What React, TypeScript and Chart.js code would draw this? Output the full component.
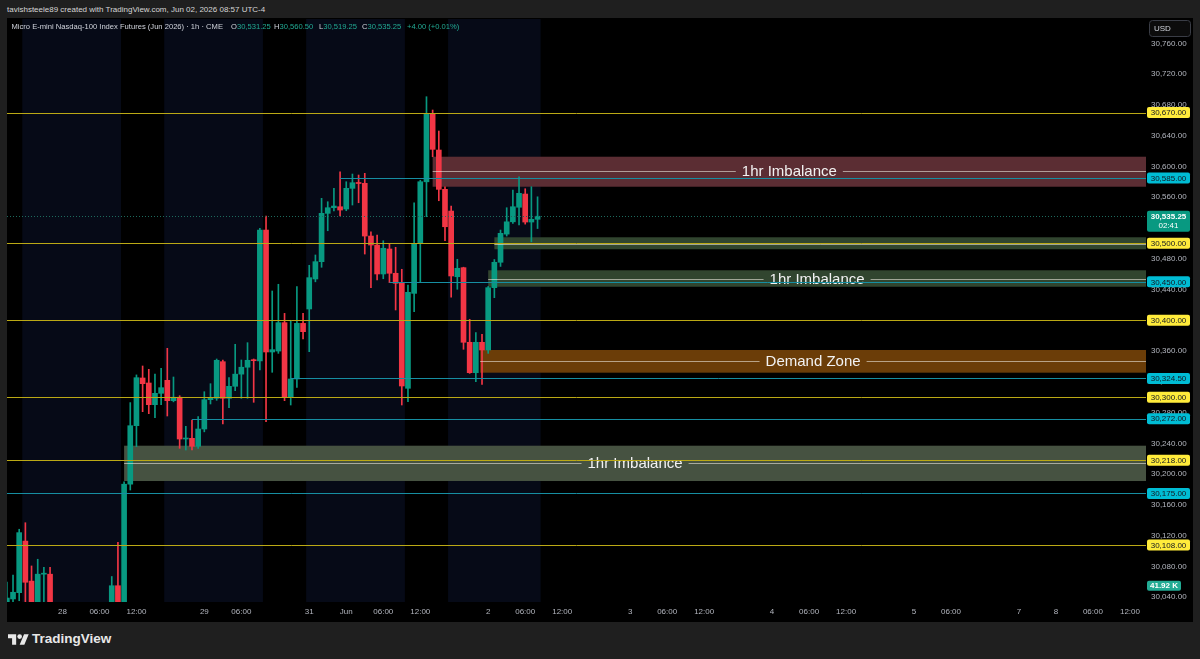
import React, { useEffect, useRef } from "react";
import { Chart, registerables } from "chart.js";

Chart.register(...registerables);

// ---------- DATA ----------
// Hourly bars, index 0 = May 27 14:00 (CME Globex session hours, 17:00 break skipped)
const OPEN = [
  30030, 30037.8, 30046, 30113, 30061, 30025, 30070, 30070, 30020, 29995,
  30008, 29998, 29975, 29990, 30010, 30002, 30018, 30012, 30055, 30025,
  30187, 30263, 30325, 30318.5, 30290.3, 30305.1, 30322, 30295.5, 30300, 30245.7,
  30246.6, 30236.2, 30258.7, 30296.8, 30298.6, 30346.2, 30298.6, 30314.2, 30330, 30339,
  30348.5, 30347.1, 30517.3, 30358.8, 30360, 30396.9, 30300.7, 30323.7, 30396, 30414.7,
  30453.7, 30476.2, 30539, 30546.3, 30547.6, 30544.6, 30571.5, 30579, 30578, 30509.5,
  30497.8, 30460.2, 30492.7, 30461.1, 30448.1, 30311.6, 30435, 30500, 30580, 30669,
  30621.3, 30570.2, 30542, 30456.6, 30468.4, 30371.4, 30331.9, 30371.4, 30361.4, 30442.4,
  30475.4, 30512, 30528, 30546.9, 30564.1, 30527.7, 30531.25,
];
const HIGH = [
  30059.6, 30069, 30128.4, 30136.9, 30080.7, 30089.4, 30079, 30079, 30030, 30018,
  30026, 30012, 29998, 30015, 30028, 30024, 30030, 30067, 30111.5, 30190,
  30293, 30329, 30340.6, 30336.3, 30330, 30337.6, 30363.6, 30326.3, 30302, 30262.2,
  30270.4, 30274.7, 30307.2, 30317.6, 30349.7, 30348.4, 30325.4, 30368.8, 30348.4, 30370.9,
  30349.7, 30519.6, 30535.5, 30438.1, 30446.8, 30409, 30400, 30443.7, 30409, 30471.5,
  30484.9, 30558.5, 30554.1, 30571.5, 30593.1, 30580.1, 30590.1, 30588.8, 30591, 30515.1,
  30510.8, 30503.4, 30500, 30494.9, 30466.3, 30445.9, 30552.8, 30582, 30690.6, 30673.3,
  30646, 30573.6, 30548.5, 30479.3, 30469, 30401.3, 30383.9, 30381.8, 30444, 30479,
  30517.3, 30546.3, 30569.3, 30586.6, 30571, 30573.6, 30560.5,
];
const LOW = [
  30022, 30034, 30035.5, 30034, 30010, 30015, 30028, 30005, 29985, 29978,
  29990, 29965, 29958, 29982, 29996, 29988, 30000, 30008, 30015, 30020,
  30179.4, 30235.7, 30281.2, 30278.6, 30273.4, 30290.3, 30275.6, 30294, 30233.6, 30231.4,
  30231.4, 30233.6, 30255, 30291.2, 30296, 30265.2, 30286.4, 30308.5, 30298.6, 30298.6,
  30293.4, 30335.4, 30268.2, 30332.4, 30357, 30295.5, 30289.9, 30312.9, 30375.7, 30359.2,
  30450, 30468.9, 30516.4, 30542, 30535.5, 30542.4, 30549.8, 30552.8, 30486.1, 30442.4,
  30452.4, 30454, 30448.9, 30413.4, 30289.9, 30294.2, 30411.2, 30449.4, 30534.6, 30612.6,
  30555.4, 30503.4, 30429.9, 30440.3, 30362.3, 30331, 30320.2, 30316.8, 30357, 30429.4,
  30470, 30509.5, 30526, 30523.8, 30525, 30502, 30519.25,
];
const CLOSE = [
  30039, 30046.5, 30124, 30059.5, 30025, 30070, 30071, 30020, 29995, 30008,
  29998, 29975, 29990, 30010, 30002, 30018, 30012, 30055, 30025, 30187,
  30263, 30325.4, 30317.6, 30290.3, 30305.1, 30312.4, 30295.5, 30300, 30245.7, 30246.6,
  30236.2, 30258.7, 30296.8, 30298.6, 30348, 30298.6, 30314.2, 30330, 30339, 30348,
  30347.5, 30517.3, 30358.8, 30361.8, 30396.9, 30300.7, 30323.7, 30396, 30385.2, 30455.4,
  30476.2, 30539, 30546.3, 30548.5, 30543.3, 30571.5, 30578.8, 30577.8, 30509.5, 30497.8,
  30460.2, 30493.6, 30461.1, 30448.1, 30314.6, 30436.4, 30500, 30580.1, 30669, 30622.2,
  30570.2, 30521.6, 30457.6, 30467.6, 30371.4, 30331.9, 30371.4, 30361.4, 30442.4, 30475.4,
  30513, 30528, 30547.6, 30565, 30527.7, 30531.25, 30535.25,
];

const TIME_TICK_INDEX = [9, 15, 21, 32, 38, 49, 55, 61, 67, 78, 84, 90, 101, 107, 113, 124, 130, 136, 147, 153, 164, 170, 176, 182];
const TIME_TICK_LABELS = ["28", "06:00", "12:00", "29", "06:00", "31", "Jun", "06:00", "12:00", "2", "06:00", "12:00", "3", "06:00", "12:00", "4", "06:00", "12:00", "5", "06:00", "7", "8", "06:00", "12:00"];
const PRICE_TICKS = [30040, 30080, 30120, 30160, 30200, 30240, 30280, 30320, 30360, 30400, 30440, 30480, 30520, 30560, 30600, 30640, 30680, 30720, 30760];

const YELLOW_LEVELS = [30670, 30500, 30400, 30300, 30218, 30108];
const CYAN_LEVELS = [30585, 30450, 30324.5, 30272, 30175];
const CYAN_FROM_BAR = [54, 62, 46, 30, 0];

const ZONE_TOP = [30612.6, 30507.9, 30465, 30361.4, 30237];
const ZONE_BOTTOM = [30573.6, 30492.3, 30443.6, 30331.9, 30191.1];
const ZONE_MID = [30594, 30499.3, 30454, 30347.5, 30214.9];
const ZONE_FROM_BAR = [69, 79, 78, 76.7, 19];
const ZONE_TEXT = ["1hr Imbalance", "", "1hr Imbalance", "Demand Zone", "1hr Imbalance"];

const SESSION_FROM = [2.5, 25.5, 48.5, 71.5];
const SESSION_TO = [18.5, 41.5, 64.5, 86.5];

const LAST_PRICE = 30535.25;
const COUNTDOWN = "02:41";
const VOLUME_LABEL = "41.92 K";

// ---------- STYLE ----------
const X_MIN = 0.023;
const X_MAX = 184.6;
const Y_MIN = 30033.85;
const Y_MAX = 30791.6;
const FONT = '"Liberation Sans", Arial, sans-serif';
const UP = "#089981";
const DOWN = "#f23645";
const AXIS_TEXT = "#b2b5be";
const ZONE_FILL = ["#5b2d33", "#31452f", "#31452f", "#6b3d08", "#465241"];

const fmt = (v: number) =>
  v.toLocaleString("en-US", { minimumFractionDigits: 2, maximumFractionDigits: 2 });

const overlay = {
  id: "overlay",
  beforeDatasetsDraw(chart: any) {
    const { ctx, chartArea: a, scales } = chart;
    const x = scales.x, y = scales.y;
    ctx.save();
    ctx.beginPath();
    ctx.rect(a.left, a.top, a.right - a.left, a.bottom - a.top);
    ctx.clip();
    ctx.fillStyle = "#060a17";
    SESSION_FROM.forEach((s, i) => {
      const x0 = x.getPixelForValue(s);
      const x1 = x.getPixelForValue(SESSION_TO[i]);
      ctx.fillRect(x0, a.top, x1 - x0, a.bottom - a.top);
    });
    ZONE_TOP.forEach((t, i) => {
      const x0 = x.getPixelForValue(ZONE_FROM_BAR[i]);
      const y0 = y.getPixelForValue(t);
      const y1 = y.getPixelForValue(ZONE_BOTTOM[i]);
      ctx.fillStyle = ZONE_FILL[i];
      ctx.fillRect(x0, y0, a.right - x0, y1 - y0);
    });
    ctx.restore();
  },
  afterDatasetsDraw(chart: any) {
    const { ctx, chartArea: a, scales } = chart;
    const x = scales.x, y = scales.y;
    ctx.save();
    ctx.beginPath();
    ctx.rect(a.left, a.top, a.right - a.left, a.bottom - a.top);
    ctx.clip();
    ctx.lineWidth = 1;
    const py = Math.round(y.getPixelForValue(LAST_PRICE)) + 0.5;
    ctx.strokeStyle = "#1d6a5d";
    ctx.setLineDash([1, 2]);
    ctx.beginPath();
    ctx.moveTo(a.left, py);
    ctx.lineTo(a.right, py);
    ctx.stroke();
    ctx.setLineDash([]);
    ctx.font = `15px ${FONT}`;
    ctx.textBaseline = "middle";
    ctx.textAlign = "center";
    ZONE_MID.forEach((m, i) => {
      const x0 = x.getPixelForValue(ZONE_FROM_BAR[i]);
      const ym = Math.round(y.getPixelForValue(m)) + 0.5;
      ctx.strokeStyle = "rgba(235,232,222,0.6)";
      const label = ZONE_TEXT[i];
      if (label) {
        const cx = (x0 + a.right) / 2;
        const w = ctx.measureText(label).width;
        ctx.beginPath();
        ctx.moveTo(x0, ym);
        ctx.lineTo(cx - w / 2 - 6, ym);
        ctx.moveTo(cx + w / 2 + 6, ym);
        ctx.lineTo(a.right, ym);
        ctx.stroke();
        ctx.fillStyle = "#f2f2f2";
        ctx.fillText(label, cx, ym);
      } else {
        ctx.beginPath();
        ctx.moveTo(x0, ym);
        ctx.lineTo(a.right, ym);
        ctx.stroke();
      }
    });
    ctx.strokeStyle = "#bba915";
    YELLOW_LEVELS.forEach((p) => {
      const yy = Math.round(y.getPixelForValue(p)) + 0.5;
      ctx.beginPath();
      ctx.moveTo(a.left, yy);
      ctx.lineTo(a.right, yy);
      ctx.stroke();
    });
    ctx.strokeStyle = "#168ea2";
    CYAN_LEVELS.forEach((p, i) => {
      const yy = Math.round(y.getPixelForValue(p)) + 0.5;
      const x0 = CYAN_FROM_BAR[i] === 0 ? a.left : x.getPixelForValue(CYAN_FROM_BAR[i]);
      ctx.beginPath();
      ctx.moveTo(x0, yy);
      ctx.lineTo(a.right, yy);
      ctx.stroke();
    });
    ctx.restore();
  },
  afterDraw(chart: any) {
    const { ctx, chartArea: a, scales } = chart;
    const y = scales.y;
    const bx = a.right + 1;
    const bw = 43;
    const cx = bx + bw / 2;
    ctx.save();
    ctx.font = `8px ${FONT}`;
    ctx.textAlign = "center";
    ctx.textBaseline = "middle";
    const box = (p: number, bg: string, fg: string) => {
      const yy = y.getPixelForValue(p);
      ctx.fillStyle = bg;
      ctx.beginPath();
      ctx.roundRect(bx, yy - 5.5, bw, 11, 2);
      ctx.fill();
      ctx.fillStyle = fg;
      ctx.fillText(fmt(p), cx, yy + 0.5);
    };
    YELLOW_LEVELS.forEach((p) => box(p, "#ffeb3b", "#131722"));
    CYAN_LEVELS.forEach((p) => box(p, "#00bcd4", "#131722"));
    const ly = y.getPixelForValue(LAST_PRICE);
    ctx.fillStyle = UP;
    ctx.beginPath();
    ctx.roundRect(bx, ly - 5.5, bw, 21, 2);
    ctx.fill();
    ctx.fillStyle = "#ffffff";
    ctx.font = `bold 8px ${FONT}`;
    ctx.fillText(fmt(LAST_PRICE), cx, ly + 0.5);
    ctx.font = `8px ${FONT}`;
    ctx.fillText(COUNTDOWN, cx, ly + 10);
    ctx.fillStyle = "#22ab94";
    ctx.beginPath();
    ctx.roundRect(bx, a.bottom - 21.3, 34, 10, 2);
    ctx.fill();
    ctx.fillStyle = "#ffffff";
    ctx.font = `bold 8px ${FONT}`;
    ctx.fillText(VOLUME_LABEL, bx + 17, a.bottom - 16);
    ctx.fillStyle = "#0c0c0c";
    ctx.strokeStyle = "#3a3d46";
    ctx.lineWidth = 1;
    ctx.beginPath();
    ctx.roundRect(a.right + 3.5, 2.5, 41, 16, 3);
    ctx.fill();
    ctx.stroke();
    ctx.fillStyle = "#d1d4dc";
    ctx.font = `8px ${FONT}`;
    ctx.textAlign = "left";
    ctx.fillText("USD", a.right + 8, 11);
    ctx.restore();
  },
};

export default function App() {
  const ref = useRef<HTMLCanvasElement | null>(null);

  useEffect(() => {
    if (!ref.current) return;
    const bars = OPEN.map((_, i) => i);
    const colors = bars.map((i) => (CLOSE[i] >= OPEN[i] ? UP : DOWN));
    const chart = new Chart(ref.current, {
      type: "bar",
      data: {
        datasets: [
          {
            data: bars.map((i) => ({ x: i, y: [OPEN[i], CLOSE[i]] })) as any,
            backgroundColor: colors,
            barThickness: 5,
            grouped: false,
            minBarLength: 1,
            borderWidth: 0,
            clip: 0,
          } as any,
          {
            data: bars.map((i) => ({ x: i, y: [LOW[i], HIGH[i]] })) as any,
            backgroundColor: colors,
            barThickness: 1,
            grouped: false,
            borderWidth: 0,
            clip: 0,
          } as any,
        ],
      },
      options: {
        animation: false,
        responsive: false,
        devicePixelRatio: 1,
        layout: { padding: { top: 1, left: 0, right: 0, bottom: 0 } },
        plugins: { legend: { display: false }, tooltip: { enabled: false } },
        scales: {
          x: {
            type: "linear",
            min: X_MIN,
            max: X_MAX,
            offset: false,
            bounds: "data",
            grid: { display: false, drawTicks: false },
            border: { display: false },
            afterBuildTicks: (s: any) => {
              s.ticks = TIME_TICK_INDEX.map((v) => ({ value: v }));
            },
            afterFit: (s: any) => {
              s.height = 20;
              s.paddingLeft = 0;
              s.paddingRight = 0;
            },
            ticks: {
              autoSkip: false,
              maxRotation: 0,
              padding: 5,
              color: AXIS_TEXT,
              font: { size: 8, family: FONT },
              callback: (_v: any, i: number) => TIME_TICK_LABELS[i],
            },
          },
          y: {
            type: "linear",
            position: "right",
            min: Y_MIN,
            max: Y_MAX,
            beginAtZero: false,
            bounds: "data",
            grid: { display: false, drawTicks: false },
            border: { display: false },
            afterBuildTicks: (s: any) => {
              s.ticks = PRICE_TICKS.map((v) => ({ value: v }));
            },
            afterFit: (s: any) => {
              s.width = 47;
              s.paddingTop = 0;
              s.paddingBottom = 0;
            },
            ticks: {
              padding: 5,
              crossAlign: "center",
              color: AXIS_TEXT,
              font: { size: 8, family: FONT },
              callback: (v: any) => fmt(Number(v)),
            },
          },
        },
      } as any,
      plugins: [overlay],
    });
    return () => chart.destroy();
  }, []);

  const legendTop = 22;
  const teal = "#22ab94";
  const lbl: React.CSSProperties = { position: "absolute", top: legendTop, lineHeight: "10px", whiteSpace: "nowrap" };

  return (
    <div
      style={{
        position: "fixed",
        left: 0,
        top: 0,
        width: 1200,
        height: 659,
        background: "#1f1f1f",
        overflow: "hidden",
        fontFamily: FONT,
      }}
    >
      <div style={{ position: "absolute", left: 7, top: 4.5, fontSize: 8, lineHeight: "10px", color: "#d6d6d6", whiteSpace: "nowrap" }}>
        tavishsteele89 created with TradingView.com, Jun 02, 2026 08:57 UTC-4
      </div>
      <canvas
        ref={ref}
        width={1186}
        height={604}
        style={{ position: "absolute", left: 7, top: 18, width: 1186, height: 604, background: "#000" }}
      />
      <div style={{ fontSize: 7.6, color: "#d1d4dc" }}>
        <span style={{ ...lbl, left: 11.5 }}>Micro E-mini Nasdaq-100 Index Futures (Jun 2026) · 1h · CME</span>
        <span style={{ ...lbl, left: 231 }}>O<span style={{ color: teal }}>30,531.25</span></span>
        <span style={{ ...lbl, left: 274 }}>H<span style={{ color: teal }}>30,560.50</span></span>
        <span style={{ ...lbl, left: 319 }}>L<span style={{ color: teal }}>30,519.25</span></span>
        <span style={{ ...lbl, left: 362 }}>C<span style={{ color: teal }}>30,535.25</span></span>
        <span style={{ ...lbl, left: 407, color: teal }}>+4.00 (+0.01%)</span>
      </div>
      <svg
        width={21}
        height={11}
        viewBox="0 4 36 18"
        style={{ position: "absolute", left: 8, top: 634 }}
      >
        <path d="M14 22H7V11H0V4h14v18zM28 22h-8l7.5-18h8L28 22z" fill="#e8e8e8" />
        <circle cx="20" cy="8" r="4" fill="#e8e8e8" />
      </svg>
      <div style={{ position: "absolute", left: 32, top: 631, fontSize: 13.5, fontWeight: 600, color: "#e8e8e8", lineHeight: "16px" }}>
        TradingView
      </div>
    </div>
  );
}
